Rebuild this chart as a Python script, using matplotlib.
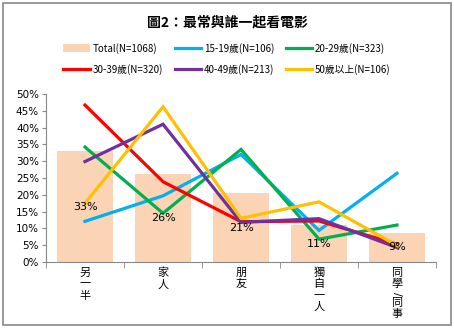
import matplotlib
matplotlib.use("Agg")
import matplotlib.pyplot as plt
from matplotlib.patches import Rectangle
from matplotlib.lines import Line2D
from matplotlib.patches import Patch
import numpy as np

plt.rcParams['font.family'] = ['Noto Sans CJK TC', 'DejaVu Sans']

categories = ["另一半", "家人", "朋友", "獨自一人", "同學/同事"]
total = [33.0, 26.2, 20.4, 11.0, 8.7]
total_labels = ["33%", "26%", "21%", "11%", "9%"]
s15_19 = [12.1, 19.7, 32.0, 9.4, 26.4]
s20_29 = [34.2, 14.5, 33.5, 6.8, 11.0]
s30_39 = [46.7, 23.9, 12.0, 12.2, 5.3]
s40_49 = [29.9, 41.0, 11.8, 12.9, 4.3]
s50 = [17.5, 46.2, 13.0, 17.9, 4.9]

names = ["Total(N=1068)", "15-19歲(N=106)", "20-29歲(N=323)",
         "30-39歲(N=320)", "40-49歲(N=213)", "50歲以上(N=106)"]
colors = ["#FAD4B4", "#00B0F0", "#00B050", "#FF0000", "#7030A0", "#FFC000"]
series = [s15_19, s20_29, s30_39, s40_49, s50]

fig = plt.figure(figsize=(4.54, 3.28), dpi=100)
fig.patch.set_facecolor("white")
fig.patches.append(Rectangle((2.5/454, 1-325/328), (451-2.5)/454, (325-2.5)/328,
                             transform=fig.transFigure, fill=False,
                             edgecolor="#888888", linewidth=1.2))

ax = fig.add_axes([46/454, 1-262/328, (436-46)/454, (262-94)/328])
x = np.arange(len(categories))
ax.bar(x, total, width=0.72, color=colors[0], zorder=1)
for xi, v, lab in zip(x, total, total_labels):
    ax.text(xi, v/2, lab, ha="center", va="center", fontsize=8, zorder=5,
            family=["DejaVu Sans"])
for s, c in zip(series, colors[1:]):
    ax.plot(x, s, color=c, linewidth=2.3, zorder=3, solid_joinstyle="miter")

ax.set_xlim(-0.5, len(categories)-0.5)
ax.set_ylim(0, 50)
ax.set_yticks(np.arange(0, 51, 5))
ax.set_yticklabels([f"{v}%" for v in range(0, 51, 5)], fontsize=7.5,
                   family=["DejaVu Sans"])
ax.set_xticks(x)
ax.set_xticklabels([""] * len(categories))
ax.set_xticks(np.arange(-0.5, len(categories), 1), minor=True)
ax.tick_params(axis="x", which="major", length=0)
ax.tick_params(axis="x", which="minor", length=4, color="#888888", direction="out")
ax.tick_params(axis="y", length=3, color="#888888", direction="out", pad=2)
for sp in ["top", "right"]:
    ax.spines[sp].set_visible(False)
for sp in ["left", "bottom"]:
    ax.spines[sp].set_color("#888888")

# vertical (stacked) category labels
px = 0.72  # points per pixel at 100 dpi
for xi, cat in zip(x, categories):
    y_off = 11.0
    for ch in cat:
        if ch == "/":
            y_off -= 1.5
            ax.annotate("/", (xi, 0), xytext=(0, -y_off * px), textcoords="offset points",
                        ha="center", va="center", fontsize=8, rotation=-90,
                        annotation_clip=False, family=["DejaVu Sans"])
            y_off += 8.5
        else:
            ax.annotate(ch, (xi, 0), xytext=(0, -y_off * px), textcoords="offset points",
                        ha="center", va="center", fontsize=8, annotation_clip=False)
            y_off += 11.3

fig.text(0.5, 1-22/328, "圖2：最常與誰一起看電影", ha="center", va="center",
         fontsize=10, fontweight="bold")

handles = [Patch(facecolor=colors[0])] + [Line2D([0], [0], color=c, linewidth=2.3) for c in colors[1:]]
order = [0, 3, 1, 4, 2, 5]
fig.legend([handles[i] for i in order], [names[i] for i in order], ncol=3,
           loc="center", bbox_to_anchor=(0.5, 1-59/328), frameon=False,
           fontsize=7, handlelength=2.7, handleheight=0.9, columnspacing=1.2,
           handletextpad=0.3, labelspacing=1.1)

fig.savefig("out.png", dpi=100)
